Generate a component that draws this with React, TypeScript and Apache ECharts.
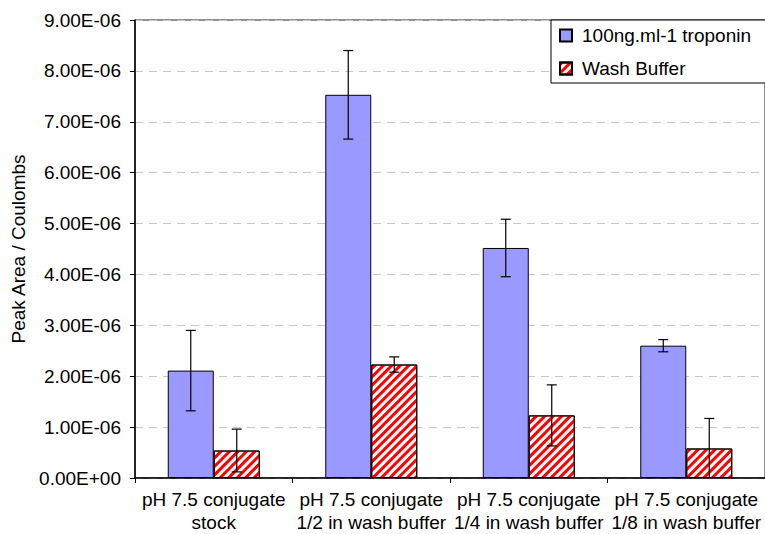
import React, { useEffect, useRef } from "react";
import * as echarts from "echarts";

const categories = [
  "pH 7.5 conjugate\nstock",
  "pH 7.5 conjugate\n1/2 in wash buffer",
  "pH 7.5 conjugate\n1/4 in wash buffer",
  "pH 7.5 conjugate\n1/8 in wash buffer",
];
const troponinValues = [2.11e-6, 7.53e-6, 4.52e-6, 2.6e-6];
const troponinErrors = [0.79e-6, 0.87e-6, 0.565e-6, 0.12e-6];
const washValues = [0.54e-6, 2.23e-6, 1.23e-6, 0.58e-6];
const washErrors = [0.42e-6, 0.15e-6, 0.6e-6, 0.59e-6];
const seriesNames = ["100ng.ml-1 troponin", "Wash Buffer"];
const yMin = 0;
const yMax = 9e-6;
const yInterval = 1e-6;
const yAxisTitle = "Peak Area / Coulombs";

const FONT = "'Liberation Sans', Arial, Helvetica, sans-serif";

function fmtExp(v: number): string {
  if (Math.abs(v) < 1e-15) return "0.00E+00";
  const s = v.toExponential(2);
  const [m, e] = s.split("e");
  const n = parseInt(e, 10);
  const sign = n < 0 ? "-" : "+";
  const abs = Math.abs(n);
  return m + "E" + sign + (abs < 10 ? "0" + abs : String(abs));
}

export default function App() {
  const ref = useRef<HTMLDivElement>(null);
  useEffect(() => {
    if (!ref.current) return;
    const chart = echarts.init(ref.current, undefined, { renderer: "svg" });
    const BAR_W = 46;
    const errData = (vals: number[], errs: number[], off: number) =>
      vals.map((v, i) => [i, v - errs[i], v + errs[i], off]);

    const renderErr = (params: any, api: any) => {
      const idx = api.value(0);
      const lo = api.value(1);
      const hi = api.value(2);
      const off = api.value(3);
      const pHi = api.coord([idx, hi]);
      const pLo = api.coord([idx, Math.max(lo, 0)]);
      const x = pHi[0] + off;
      const cap = 5;
      const style = { stroke: "#000", lineWidth: 1.2 };
      const children: any[] = [
        { type: "line", shape: { x1: x, y1: pHi[1], x2: x, y2: pLo[1] }, style },
        { type: "line", shape: { x1: x - cap, y1: pHi[1], x2: x + cap, y2: pHi[1] }, style },
      ];
      if (lo > 0) {
        children.push({ type: "line", shape: { x1: x - cap, y1: pLo[1], x2: x + cap, y2: pLo[1] }, style });
      }
      return { type: "group", children };
    };

    chart.setOption({
      animation: false,
      textStyle: { fontFamily: FONT },
      grid: {
        left: 135,
        top: 20,
        width: 632,
        bottom: 52,
        show: true,
        borderColor: "#222",
        borderWidth: 1,
        backgroundColor: "transparent",
      },
      legend: {
        orient: "vertical",
        left: 551,
        top: 20,
        data: seriesNames,
        backgroundColor: "#fff",
        borderColor: "#000",
        borderWidth: 1,
        borderRadius: 0,
        padding: [6, 30, 5, 8],
        itemGap: 14,
        itemWidth: 12,
        itemHeight: 12,
        icon: "rect",
        textStyle: { fontSize: 19, color: "#000", fontFamily: FONT, padding: [0, 0, 0, 5] },
      },
      xAxis: {
        type: "category",
        data: categories,
        axisLine: { lineStyle: { color: "#000", width: 1.5 } },
        axisTick: { show: true, length: 5, lineStyle: { color: "#000" } },
        axisLabel: {
          fontSize: 19,
          color: "#000",
          margin: 10,
          lineHeight: 23,
          fontFamily: FONT,
          interval: 0,
        },
      },
      yAxis: {
        type: "value",
        min: yMin,
        max: yMax,
        interval: yInterval,
        name: yAxisTitle,
        nameLocation: "middle",
        nameGap: 107,
        nameTextStyle: { fontSize: 19, color: "#000", fontFamily: FONT },
        axisLine: { show: true, lineStyle: { color: "#000", width: 1.5 } },
        axisTick: { show: true, length: 5, inside: false, lineStyle: { color: "#000" } },
        axisLabel: {
          fontSize: 19,
          color: "#000",
          margin: 14,
          fontFamily: FONT,
          formatter: (v: number) => fmtExp(v),
        },
        splitLine: { show: true, lineStyle: { color: "#c8c8c8", type: [8, 6], width: 1 } },
      },
      series: [
        {
          name: seriesNames[0],
          type: "bar",
          data: troponinValues,
          barWidth: BAR_W,
          barGap: "0%",
          itemStyle: { color: "#9999ff", borderColor: "#000", borderWidth: 1 },
        },
        {
          name: seriesNames[1],
          type: "bar",
          data: washValues,
          barWidth: BAR_W,
          barGap: "0%",
          itemStyle: {
            color: "#ffffff",
            borderColor: "#000",
            borderWidth: 1,
            decal: {
              symbol: "rect",
              symbolSize: 1,
              color: "#ff0000",
              dashArrayX: [1, 0],
              dashArrayY: [2.2, 2.2],
              rotation: -Math.PI / 4,
            },
          },
        },
        {
          type: "custom",
          name: "err1",
          data: errData(troponinValues, troponinErrors, -BAR_W / 2),
          renderItem: renderErr,
          encode: { x: 0, y: [1, 2] },
          clip: true,
          z: 5,
          silent: true,
        },
        {
          type: "custom",
          name: "err2",
          data: errData(washValues, washErrors, BAR_W / 2),
          renderItem: renderErr,
          encode: { x: 0, y: [1, 2] },
          clip: true,
          z: 5,
          silent: true,
        },
      ],
    });
    return () => chart.dispose();
  }, []);
  return (
    <div
      ref={ref}
      style={{ position: "fixed", left: 0, top: 0, width: 765, height: 534, background: "#fff" }}
    />
  );
}
